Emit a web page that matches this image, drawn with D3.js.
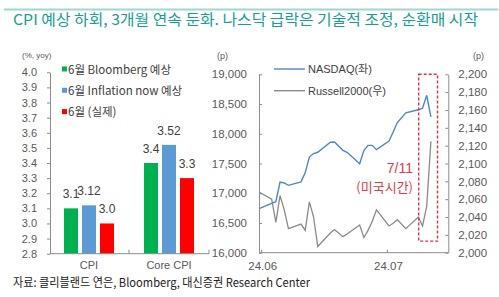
<!DOCTYPE html>
<html>
<head>
<meta charset="utf-8">
<script src="https://cdn.jsdelivr.net/npm/d3@7"></script>
<style>
  body { margin: 0; background: #fff; }
  svg { display: block; font-family: "Liberation Sans", "Noto Sans CJK KR", sans-serif; }
  .axis path, .axis line { stroke: #8c8c8c; }
  .axis text { fill: #595959; }
</style>
</head>
<body>
<div id="canvas"></div>
<script>
// bar chart data
const categories = ['CPI', 'Core CPI'];
const seriesNames = ['6월 Bloomberg 예상', '6월 Inflation now 예상', '6월 (실제)'];
const seriesColors = ['#00b050', '#5b9bd5', '#ff0000'];
const bloomberg = [3.1, 3.4];
const inflationNow = [3.12, 3.52];
const actual = [3.0, 3.3];
const barLabels = [['3.1', '3.4'], ['3.12', '3.52'], ['3.0', '3.3']];
const cpiTicks = [2.8, 2.9, 3.0, 3.1, 3.2, 3.3, 3.4, 3.5, 3.6, 3.7, 3.8, 3.9, 4.0];

// line chart data
const dates = ['2024-05-31', '2024-06-03', '2024-06-04', '2024-06-05', '2024-06-06', '2024-06-07',
  '2024-06-10', '2024-06-11', '2024-06-12', '2024-06-13', '2024-06-14', '2024-06-17', '2024-06-18',
  '2024-06-20', '2024-06-21', '2024-06-24', '2024-06-25', '2024-06-26', '2024-06-27', '2024-06-28',
  '2024-07-01', '2024-07-02', '2024-07-03', '2024-07-05', '2024-07-08', '2024-07-09', '2024-07-10',
  '2024-07-11'];
const nasdaq = [16740, 16828, 16858, 17187, 17173, 17133, 17192, 17343, 17608, 17667, 17689, 17857,
  17862, 17721, 17689, 17497, 17718, 17805, 17805, 17733, 17879, 18029, 18188, 18352, 18403, 18429,
  18647, 18283];
const russell = [2068, 2060, 2034, 2064, 2048, 2027, 2032, 2025, 2057, 2040, 2007, 2022, 2026, 2018,
  2021, 2031, 2017, 2025, 2035, 2048, 2030, 2033, 2037, 2027, 2040, 2030, 2052, 2125];
const nasdaqTicks = [16000, 16500, 17000, 17500, 18000, 18500, 19000];
const russellTicks = [2000, 2020, 2040, 2060, 2080, 2100, 2120, 2140, 2160, 2180, 2200];
const monthTicks = ['2024-06-01', '2024-07-01'];
const monthLabels = ['24.06', '24.07'];

const svg = d3.select('#canvas').append('svg')
  .attr('width', 499).attr('height', 297);
svg.append('rect').attr('width', 499).attr('height', 297).attr('fill', '#fff');

// title
svg.append('line')
  .attr('x1', 4).attr('x2', 498).attr('y1', 9.5).attr('y2', 9.5)
  .attr('stroke', '#9fd8d3').attr('stroke-width', 2);
svg.append('text')
  .attr('x', 13).attr('y', 25)
  .attr('font-family', '"Noto Sans CJK KR", sans-serif')
  .attr('font-size', 15).attr('fill', '#16a094')
  .attr('textLength', 465).attr('lengthAdjust', 'spacingAndGlyphs')
  .text('CPI 예상 하회, 3개월 연속 둔화. 나스닥 급락은 기술적 조정, 순환매 시작');

// <-- left: bar chart -->
const yL = d3.scaleLinear().domain([2.8, 4.0]).range([253.7, 72.3]);
const x0 = d3.scaleBand().domain(categories).range([49, 209]);
const x1 = d3.scaleBand().domain(seriesNames).range([15, 65]).paddingInner(4 / 18);

svg.append('g').attr('class', 'axis')
  .attr('transform', 'translate(50,0)')
  .call(d3.axisLeft(yL).tickValues(cpiTicks).tickFormat(d3.format('.1f'))
    .tickSize(3).tickSizeOuter(0).tickPadding(10))
  .call(g => g.selectAll('text').attr('font-size', 11));

svg.append('text').attr('x', 22).attr('y', 58)
  .attr('font-size', 8).attr('fill', '#595959').text('(%, yoy)');

const values = [bloomberg, inflationNow, actual];
const groups = svg.append('g');
values.forEach((vals, si) => {
  groups.selectAll(null)
    .data(categories)
    .enter()
    .append('rect')
    .attr('x', (c) => x0(c) + x1(seriesNames[si]))
    .attr('width', x1.bandwidth())
    .attr('y', (c, i) => yL(vals[i]))
    .attr('height', (c, i) => yL(2.8) - yL(vals[i]))
    .attr('fill', seriesColors[si]);
  groups.selectAll(null)
    .data(categories)
    .enter()
    .append('text')
    .attr('x', (c) => x0(c) + x1(seriesNames[si]) + x1.bandwidth() / 2)
    .attr('y', (c, i) => yL(vals[i]) - 10)
    .attr('text-anchor', 'middle')
    .attr('font-size', 12).attr('fill', '#404040')
    .text((c, i) => barLabels[si][i]);
});

svg.append('g').attr('class', 'axis')
  .attr('transform', 'translate(0,253.7)')
  .call(d3.axisBottom(x0).tickSize(0).tickPadding(8))
  .call(g => g.select('.domain').attr('d', 'M50,0H209'))
  .call(g => g.selectAll('text').attr('font-size', 11));
svg.append('g').selectAll('line')
  .data([x0('Core CPI'), 209])
  .enter().append('line')
  .attr('x1', d => d).attr('x2', d => d)
  .attr('y1', 253.7).attr('y2', 249.7)
  .attr('stroke', '#8c8c8c');

// legend (bar)
const legL = svg.append('g');
seriesNames.forEach((s, i) => {
  legL.append('rect').attr('x', 62).attr('y', 66.5 + i * 21.3)
    .attr('width', 5).attr('height', 5).attr('fill', seriesColors[i]);
  legL.append('text').attr('x', 68).attr('y', 73.5 + i * 21.3)
    .attr('font-size', 11.5).attr('fill', '#404040')
    .attr('font-family', '"Noto Sans CJK KR", sans-serif')
    .text(s);
});

// <-- right: line chart -->
const parse = d3.timeParse('%Y-%m-%d');
const lineData = dates.map((d, i) => ({
  time: d3.timeHour.offset(parse(d), 12),
  nasdaq: nasdaq[i],
  russell: russell[i],
}));

const xT = d3.scaleTime()
  .domain([parse('2024-05-31'), parse('2024-07-12')])
  .range([257, 433]);
const yN = d3.scaleLinear().domain([16000, 19000]).range([252.7, 74.3]);
const yR = d3.scaleLinear().domain([2000, 2200]).range([252.7, 74.3]);

svg.append('g').attr('class', 'axis')
  .attr('transform', 'translate(259,0)')
  .call(d3.axisLeft(yN).tickValues(nasdaqTicks).tickFormat(d3.format(','))
    .tickSize(-3).tickSizeOuter(0).tickPadding(12))
  .call(g => g.selectAll('text').attr('font-size', 11.5));

svg.append('g').attr('class', 'axis')
  .attr('transform', 'translate(448.3,0)')
  .call(d3.axisRight(yR).tickValues(russellTicks).tickFormat(d3.format(','))
    .tickSize(-3).tickSizeOuter(0).tickPadding(10))
  .call(g => g.selectAll('text').attr('font-size', 11.5));

svg.append('g').attr('class', 'axis')
  .attr('transform', 'translate(0,252.7)')
  .call(d3.axisBottom(xT).tickValues(monthTicks.map(parse))
    .tickFormat((d, i) => monthLabels[i]).tickSize(-3).tickSizeOuter(0).tickPadding(9))
  .call(g => g.select('.domain').attr('d', 'M259,0H448.3'))
  .call(g => g.selectAll('text').attr('font-size', 11.5).attr('dx', 1));

svg.append('text').attr('x', 217).attr('y', 59)
  .attr('font-size', 9).attr('fill', '#595959').text('(p)');
svg.append('text').attr('x', 473).attr('y', 59)
  .attr('font-size', 9).attr('fill', '#595959').text('(p)');

const nasdaqLine = d3.line().x(d => xT(d.time)).y(d => yN(d.nasdaq));
const russellLine = d3.line().x(d => xT(d.time)).y(d => yR(d.russell));

svg.append('path')
  .attr('d', russellLine(lineData))
  .attr('fill', 'none').attr('stroke', '#8a8a8a').attr('stroke-width', 1.3);
svg.append('path')
  .attr('d', nasdaqLine(lineData))
  .attr('fill', 'none').attr('stroke', '#4f86c9').attr('stroke-width', 1.4);

// legend (line)
const legR = svg.append('g');
[['NASDAQ(좌)', '#4f86c9'], ['Russell2000(우)', '#8a8a8a']].forEach((d, i) => {
  legR.append('line').attr('x1', 274).attr('x2', 305)
    .attr('y1', 69 + i * 21.7).attr('y2', 69 + i * 21.7)
    .attr('stroke', d[1]).attr('stroke-width', 1.4);
  legR.append('text').attr('x', 308).attr('y', 73 + i * 21.7)
    .attr('font-size', 11).attr('fill', '#404040')
    .attr('font-family', '"Liberation Sans", "Noto Sans CJK KR", sans-serif')
    .text(d[0]);
});

// 7/11 highlight box
const boxL = xT(d3.timeHour.offset(parse('2024-07-08'), 14));
const boxR = xT(d3.timeHour.offset(parse('2024-07-13'), 2));
svg.append('rect')
  .attr('x', boxL).attr('y', yR(2200))
  .attr('width', boxR - boxL).attr('height', yR(2013) - yR(2200))
  .attr('fill', 'none').attr('stroke', '#e8303a')
  .attr('stroke-width', 1.4).attr('stroke-dasharray', '3,2');
svg.append('text').attr('x', 413).attr('y', 173)
  .attr('text-anchor', 'end').attr('font-size', 14).attr('fill', '#e23a44')
  .text('7/11');
svg.append('text').attr('x', 413).attr('y', 192)
  .attr('text-anchor', 'end').attr('font-size', 13).attr('fill', '#e23a44')
  .attr('font-family', '"Noto Sans CJK KR", sans-serif')
  .text('(미국시간)');

// source
svg.append('text').attr('x', 13).attr('y', 287)
  .attr('font-size', 12).attr('fill', '#222')
  .attr('font-family', '"Noto Sans CJK KR", sans-serif')
  .attr('textLength', 297).attr('lengthAdjust', 'spacingAndGlyphs')
  .text('자료: 클리블랜드 연은, Bloomberg, 대신증권 Research Center');
</script>
</body>
</html>
